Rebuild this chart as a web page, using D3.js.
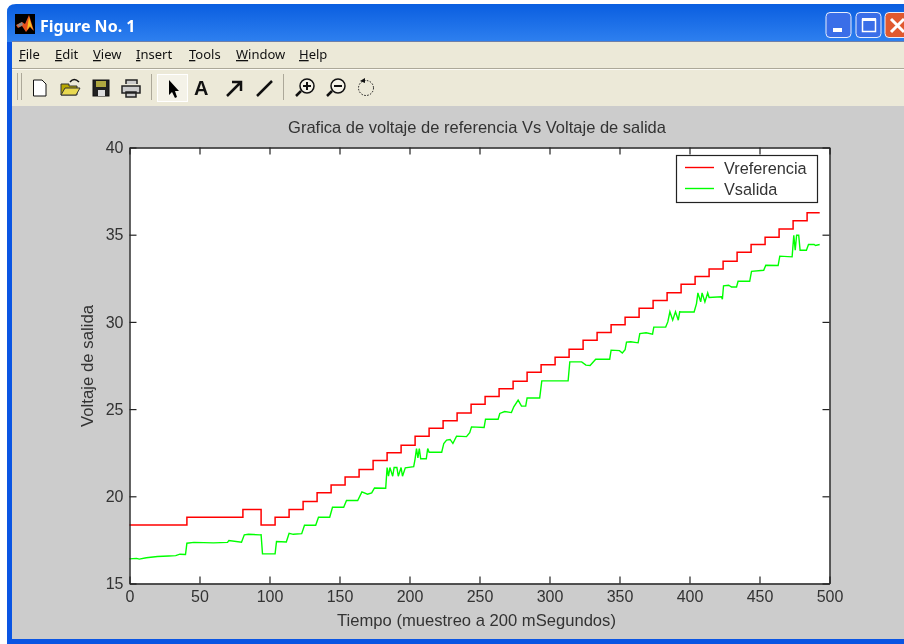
<!DOCTYPE html>
<html>
<head>
<meta charset="utf-8">
<script src="https://cdn.jsdelivr.net/npm/d3@7"></script>
<style>
  html, body { margin: 0; padding: 0; background: #fff; }
  svg { display: block; filter: blur(0.4px); }
  text { font-family: "Liberation Sans", Arial, sans-serif; }
</style>
</head>
<body>
<svg id="chart" width="904" height="644"></svg>
<script>
const windowTitle = "Figure No. 1"
const menuNames = ["File", "Edit", "View", "Insert", "Tools", "Window", "Help"]
const chartTitle = "Grafica de voltaje de referencia Vs Voltaje de salida"
const xLabel = "Tiempo (muestreo a 200 mSegundos)"
const yLabel = "Voltaje de salida"
const seriesNames = ["Vreferencia", "Vsalida"]
const seriesColors = ["#ff0000", "#00ff00"]

const xTicks = [0, 50, 100, 150, 200, 250, 300, 350, 400, 450, 500]
const yTicks = [15, 20, 25, 30, 35, 40]

const refTime = [0, 41, 81, 94, 104, 114, 124, 134, 144, 154, 164, 174, 184, 194, 204, 214, 224, 234, 244,
    254, 264, 274, 284, 294, 304, 314, 324, 334, 344, 354, 364, 374, 384, 394, 404, 414, 424, 434, 444,
    454, 464, 474, 484, 493]
const refValue = [18.35, 18.8, 19.25, 18.35, 18.8, 19.25, 19.7, 20.2, 20.65, 21.1, 21.54, 22.05, 22.49, 22.93,
    23.45, 23.9, 24.33, 24.77, 25.28, 25.72, 26.16, 26.6, 27.11, 27.55, 27.97, 28.43, 28.95, 29.39, 29.83,
    30.27, 30.78, 31.22, 31.67, 32.16, 32.6, 33.04, 33.48, 34.0, 34.44, 34.86, 35.32, 35.8, 36.26, 36.26]

const outTime = [0, 5, 7, 12, 20, 28, 33, 36, 40, 41, 46, 60, 70, 71, 80, 82, 85, 93, 94, 95, 104, 105, 112, 114, 117, 123,
    125, 133, 135, 143, 145, 153, 155, 163, 166, 170, 173, 175, 183, 184, 185, 186, 188, 189, 191, 192, 194, 195, 197, 203,
    204, 205, 206, 207, 208, 209, 212, 213, 214, 223, 224.5, 226.5, 229, 231, 233.6, 240.7, 243, 244.3, 253.3, 254.3, 263.3,
    264.5, 268, 272.8, 274.5, 277.6, 280, 283, 284, 293, 294.5, 313.3, 314.5, 323, 326, 329, 333, 343, 344, 350, 352, 354,
    355, 358, 363.3, 364.5, 369, 373.6, 374.5, 383, 384.5, 386, 388, 390, 392, 393, 394.3, 403.3, 405, 406, 408, 409, 411,
    413, 414, 422.8, 423.5, 424.3, 428, 430, 433.6, 434.7, 443, 444.3, 453, 454.5, 463.3, 464.5, 473.3, 474.5, 475.5, 476.5,
    478, 479, 483.5, 485, 489, 490, 493]
const outValue = [16.41, 16.44, 16.4, 16.48, 16.55, 16.58, 16.6, 16.68, 16.66, 17.31, 17.36, 17.33, 17.36, 17.46, 17.37,
    17.79, 17.82, 17.79, 17.8, 16.7, 16.7, 17.41, 17.38, 17.88, 17.82, 17.86, 18.34, 18.34, 18.8, 18.8, 19.37, 19.37, 19.76, 19.76,
    20.25, 20.12, 20.2, 20.48, 20.46, 21.65, 21.15, 21.65, 21.15, 21.65, 21.65, 21.15, 21.65, 21.15, 21.63, 21.7,
    22.15, 22.74, 22.2, 22.74, 22.15, 22.15, 22.15, 22.74, 22.53, 22.53, 23.03, 23.22, 23.26, 23.03, 23.45, 23.42, 23.65, 23.98,
    23.95, 24.42, 24.42, 24.75, 24.86, 24.8, 25.13, 25.51, 25.17, 25.17, 25.64, 25.64, 26.62, 26.62, 27.71, 27.71, 27.52, 27.5,
    27.86, 27.86, 28.38, 28.35, 28.22, 28.4, 28.84, 28.86, 28.8, 29.33, 29.38, 29.3, 29.7, 29.7, 30.0, 30.58, 30.1, 30.58, 30.1,
    30.58, 30.57, 30.57, 31.05, 31.66, 31.15, 31.66, 31.15, 31.66, 31.4, 31.44, 31.3, 32.07, 32.1, 32.0, 32.0, 32.33, 32.33,
    32.9, 32.96, 33.25, 33.23, 33.77, 33.73, 34.97, 34.11, 34.97, 34.97, 34.11, 34.11, 34.44, 34.44, 34.38, 34.44]

const margin = { left: 129.5, right: 829.5, top: 147.5, bottom: 583.5 }
const inkColor = "#333"

const svg = d3.select("#chart")
const defs = svg.append("defs")

const titleGrad = defs.append("linearGradient").attr("id", "titleBar").attr("x2", 0).attr("y2", 1)
titleGrad.selectAll("stop")
    .data([[0, "#0a5ee0"], [0.08, "#3b8cf5"], [0.2, "#0a5de8"], [0.6, "#0054e3"], [0.88, "#0160ef"], [1, "#0047c8"]])
    .join("stop")
    .attr("offset", d => d[0])
    .attr("stop-color", d => d[1])

// window frame
svg.append("path")
    .attr("d", "M7,644 V12 Q7,4 16,4 H904 V42 H12 V640 H904 V644 Z")
    .attr("fill", "url(#titleBar)")
svg.append("rect").attr("x", 7).attr("y", 42).attr("width", 5).attr("height", 602).attr("fill", "#0a55e3")
svg.append("rect").attr("x", 7).attr("y", 639).attr("width", 897).attr("height", 5).attr("fill", "#0a55e3")
svg.append("rect").attr("x", 12).attr("y", 42).attr("width", 892).attr("height", 597).attr("fill", "#cccccc")
svg.append("rect").attr("x", 12).attr("y", 42).attr("width", 892).attr("height", 64).attr("fill", "#ece9d8")
svg.append("rect").attr("x", 12).attr("y", 68).attr("width", 892).attr("height", 1).attr("fill", "#aca899")
svg.append("rect").attr("x", 12).attr("y", 69).attr("width", 892).attr("height", 1).attr("fill", "#fbfaf4")
svg.append("rect").attr("x", 12).attr("y", 41).attr("width", 892).attr("height", 1).attr("fill", "#6f7fa8")

svg.append("text")
    .attr("x", 40).attr("y", 32)
    .attr("fill", "#ffffff")
    .attr("font-size", 16)
    .attr("font-weight", "bold")
    .style("font-family", "'Noto Sans'")
    .text(windowTitle)

// matlab logo
const logo = svg.append("g").attr("transform", "translate(15,14)")
logo.append("rect").attr("width", 20).attr("height", 20).attr("fill", "#000")
logo.append("path").attr("d", "M1,11 L7,8 L10,10 L14,1 L19,17 L15,13 L11,18 L7,12 L3,14 Z").attr("fill", "#e8501c")
logo.append("path").attr("d", "M14,3 L18,16 L15,12 L12,16 Z").attr("fill", "#f8c020")
logo.append("path").attr("d", "M2,11 L7,8 L8,11 L4,13 Z").attr("fill", "#8a8a8a")

// window buttons
const winButtons = [[826, "#3a6ee8"], [856, "#3a6ee8"], [885, "#e0592f"]]
svg.selectAll("rect.winbtn")
    .data(winButtons)
    .join("rect")
    .attr("class", "winbtn")
    .attr("x", d => d[0]).attr("y", 12.5)
    .attr("width", 25).attr("height", 25).attr("rx", 4)
    .attr("fill", d => d[1])
    .attr("stroke", "#e8eefc")
    .attr("stroke-width", 1)
svg.append("rect").attr("x", 833).attr("y", 28).attr("width", 9).attr("height", 4).attr("fill", "#fff")
svg.append("rect").attr("x", 862.5).attr("y", 19.5).attr("width", 13).attr("height", 12).attr("fill", "none").attr("stroke", "#fff").attr("stroke-width", 1.5)
svg.append("rect").attr("x", 862).attr("y", 18).attr("width", 14).attr("height", 3).attr("fill", "#fff")
svg.append("path").attr("d", "M891,19 L904,32 M904,19 L891,32").attr("stroke", "#fff").attr("stroke-width", 3).attr("fill", "none")

// menus
const menuX = [19, 55, 93, 136, 189, 236, 299]
const menu = svg.append("g").selectAll("text")
    .data(menuNames)
    .join("text")
    .attr("x", (d, i) => menuX[i]).attr("y", 59)
    .attr("font-size", 13)
    .attr("fill", "#111")
    .style("font-family", "'Noto Sans'")
menu.append("tspan").attr("text-decoration", "underline").text(d => d[0])
menu.append("tspan").text(d => d.slice(1))

// toolbar icons, drawn by hand
const tb = svg.append("g").attr("fill", "none").attr("stroke", "#111")
tb.append("path").attr("d", "M17.5,73 V100 M21.5,73 V100").attr("stroke", "#aca899")
tb.append("path").attr("d", "M151.5,74 V100 M283.5,74 V100").attr("stroke", "#aca899")
tb.append("rect").attr("x", 157.5).attr("y", 74.5).attr("width", 30).attr("height", 27).attr("fill", "#f4f2e8").attr("stroke", "#fff")
tb.append("path").attr("d", "M33.5,80 H42 L46,84 V96 H33.5 Z").attr("fill", "#fff")
tb.append("path").attr("d", "M61,95 V84 H69 V86 H77 V95 Z").attr("fill", "#b8a800").attr("stroke", "#333")
tb.append("path").attr("d", "M61,95 L65,88 H80 L76,95 Z").attr("fill", "#e8d850").attr("stroke", "#333")
tb.append("path").attr("d", "M70,82 Q74,77 79,82").attr("stroke-width", 1.5)
tb.append("rect").attr("x", 93).attr("y", 80).attr("width", 16).attr("height", 16).attr("fill", "#222")
tb.append("rect").attr("x", 96).attr("y", 81).attr("width", 10).attr("height", 6).attr("fill", "#b0a840").attr("stroke", "none")
tb.append("rect").attr("x", 98).attr("y", 90).attr("width", 7).attr("height", 6).attr("fill", "#ddd").attr("stroke", "none")
tb.append("path").attr("d", "M126,84 V80 H137 V84 M122,86 H140 V93 H122 Z M126,92 H136 V97 H126 Z").attr("fill", "#ccc").attr("stroke", "#222").attr("stroke-width", 1.5)
tb.append("path").attr("d", "M169,80 V95 L172,92 L175,98 L177,97 L175,91 L179,91 Z").attr("fill", "#000").attr("stroke", "none")
tb.append("text").attr("x", 194).attr("y", 95).attr("font-size", 20).attr("font-weight", "bold").attr("fill", "#111").attr("stroke", "none").text("A")
tb.append("path").attr("d", "M227,96 L240,83 M232,82 H241 V91").attr("stroke-width", 2.5)
tb.append("path").attr("d", "M257,96 L272,81").attr("stroke-width", 2.5)
tb.append("circle").attr("cx", 307).attr("cy", 86).attr("r", 7).attr("fill", "#f4f2e8").attr("stroke-width", 1.5)
tb.append("path").attr("d", "M303,86 H311 M307,82 V90").attr("stroke-width", 2)
tb.append("path").attr("d", "M301,91 L296,96").attr("stroke-width", 2.5)
tb.append("circle").attr("cx", 338).attr("cy", 86).attr("r", 7).attr("fill", "#f4f2e8").attr("stroke-width", 1.5)
tb.append("path").attr("d", "M334,86 H342").attr("stroke-width", 2)
tb.append("path").attr("d", "M332,91 L327,96").attr("stroke-width", 2.5)
tb.append("circle").attr("cx", 366).attr("cy", 88).attr("r", 7.5).attr("stroke-dasharray", "1.5 1.5")
tb.append("path").attr("d", "M360,81 L365,78 L365,83 Z").attr("fill", "#111").attr("stroke", "none")

// plot
const x = d3.scaleLinear().domain([0, 500]).range([margin.left, margin.right])
const y = d3.scaleLinear().domain([15, 40]).range([margin.bottom, margin.top])

svg.append("rect")
    .attr("x", margin.left).attr("y", margin.top)
    .attr("width", margin.right - margin.left).attr("height", margin.bottom - margin.top)
    .attr("fill", "#ffffff")

const refLine = d3.line().x(i => x(refTime[i])).y(i => y(refValue[i])).curve(d3.curveStepAfter)
const outLine = d3.line().x(i => x(outTime[i])).y(i => y(outValue[i]))

svg.append("path").attr("d", refLine(d3.range(refTime.length)))
    .attr("fill", "none").attr("stroke", seriesColors[0]).attr("stroke-width", 1.5)
svg.append("path").attr("d", outLine(d3.range(outTime.length)))
    .attr("fill", "none").attr("stroke", seriesColors[1]).attr("stroke-width", 1.4)

const styleAxis = (g, labels) => {
    g.select(".domain").attr("stroke", "#222").attr("stroke-width", 1.4)
    g.selectAll(".tick line").attr("stroke", "#222").attr("stroke-width", 1.2)
    g.selectAll("text").attr("font-size", 16).attr("font-family", "Liberation Sans").attr("fill", inkColor)
    if (!labels) g.selectAll("text").remove()
}

svg.append("g").attr("transform", `translate(0,${margin.bottom})`)
    .call(d3.axisBottom(x).tickValues(xTicks).tickSizeInner(-7).tickSizeOuter(0).tickPadding(7))
    .call(styleAxis, true)
svg.append("g").attr("transform", `translate(0,${margin.top})`)
    .call(d3.axisTop(x).tickValues(xTicks).tickSizeInner(-7).tickSizeOuter(0))
    .call(styleAxis, false)
svg.append("g").attr("transform", `translate(${margin.left},0)`)
    .call(d3.axisLeft(y).tickValues(yTicks).tickSizeInner(-7).tickSizeOuter(0).tickPadding(6))
    .call(styleAxis, true)
svg.append("g").attr("transform", `translate(${margin.right},0)`)
    .call(d3.axisRight(y).tickValues(yTicks).tickSizeInner(-7).tickSizeOuter(0))
    .call(styleAxis, false)

// labels
svg.append("text").attr("x", 477).attr("y", 133).attr("text-anchor", "middle")
    .attr("font-size", 16.5).attr("fill", inkColor).text(chartTitle)
svg.append("text").attr("x", 476.5).attr("y", 626).attr("text-anchor", "middle")
    .attr("font-size", 16.6).attr("fill", inkColor).text(xLabel)
svg.append("text").attr("transform", "translate(93,366) rotate(-90)").attr("text-anchor", "middle")
    .attr("font-size", 16.8).attr("fill", inkColor).text(yLabel)

// legend
const legend = svg.append("g")
legend.append("rect").attr("x", 676.5).attr("y", 155.5).attr("width", 141).attr("height", 47)
    .attr("fill", "#fff").attr("stroke", "#222").attr("stroke-width", 1.2)
const rows = legend.selectAll("g").data(seriesNames).join("g")
    .attr("transform", (d, i) => `translate(0,${167.5 + i * 21})`)
rows.append("line").attr("x1", 685).attr("x2", 714)
    .attr("stroke", (d, i) => seriesColors[i]).attr("stroke-width", 1.4)
rows.append("text").attr("x", 724).attr("y", 6).attr("font-size", 16.3).attr("fill", inkColor).text(d => d)
</script>
</body>
</html>
